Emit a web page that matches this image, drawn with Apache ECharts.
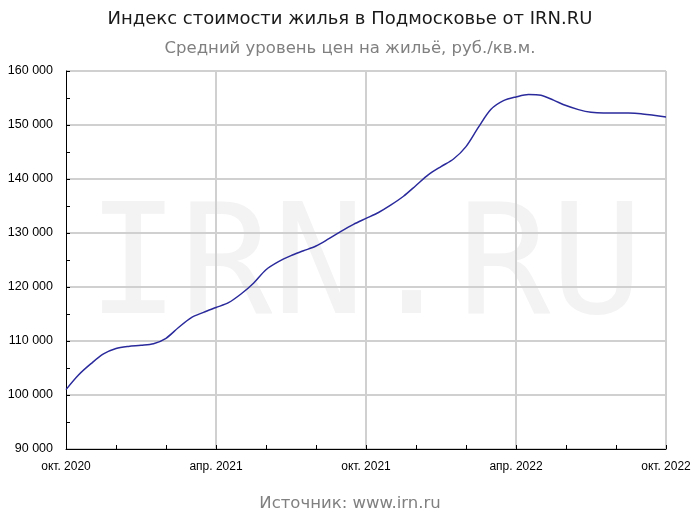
<!DOCTYPE html>
<html>
<head>
<meta charset="utf-8">
<script src="https://cdn.jsdelivr.net/npm/echarts@6/dist/echarts.min.js"></script>
<style>
  html, body { margin: 0; padding: 0; background: #fff; }
  #chart { width: 700px; height: 519px; }
</style>
</head>
<body>
<div id="chart"></div>
<script>
// semi-monthly points, Oct 2020 .. Oct 2022
const monthNames = ['янв.', 'февр.', 'мар.', 'апр.', 'мая', 'июн.', 'июл.', 'авг.', 'сент.', 'окт.', 'нояб.', 'дек.']
const startYear = 2020
const startMonth = 9 // октябрь
const pointsPerMonth = 2

const prices = [
  101000, 103700, 105800, 107600, 108600, 109000, 109200, 109500,
  110500, 112500, 114300, 115300, 116200, 117100, 118700, 120700,
  123200, 124700, 125800, 126700, 127600, 128900, 130300, 131600,
  132700, 133800, 135200, 136800, 138800, 140800, 142300, 143700,
  146000, 149600, 152900, 154500, 155200, 155650, 155500, 154600,
  153600, 152850, 152350, 152200, 152200, 152200, 152100, 151800,
  151500
]

const tickLabels = ['окт. 2020', 'апр. 2021', 'окт. 2021', 'апр. 2022', 'окт. 2022']

// category per point; label only on month starts
const categories = prices.map((v, i) => {
  if (i % pointsPerMonth !== 0) return ''
  const m = startMonth + i / pointsPerMonth
  return monthNames[m % 12] + ' ' + (startYear + Math.floor(m / 12))
})

const fmt = v => String(v).replace(/\B(?=(\d{3})+(?!\d))/g, ' ')

var myChart = echarts.init(document.getElementById('chart'))
myChart.setOption({
  animation: false,
  title: [
    {
      text: 'Индекс стоимости жилья в Подмосковье от IRN.RU',
      left: 'center', top: 5,
      textStyle: { fontFamily: 'DejaVu Sans', fontSize: 18, fontWeight: 'normal', color: '#1a1a1a' }
    },
    {
      text: 'Средний уровень цен на жильё, руб./кв.м.',
      left: 'center', top: 35,
      textStyle: { fontFamily: 'DejaVu Sans', fontSize: 16.5, fontWeight: 'normal', color: '#808080' }
    },
    {
      text: 'Источник: www.irn.ru',
      left: 'center', top: 490,
      textStyle: { fontFamily: 'DejaVu Sans', fontSize: 16.5, fontWeight: 'normal', color: '#808080' }
    }
  ],
  graphic: [{
    type: 'text',
    left: 87,
    top: 196,
    z: 0,
    silent: true,
    style: {
      text: 'IRN.RU',
      font: '154px "DejaVu Sans Mono"',
      fill: '#f3f3f3'
    }
  }],
  grid: { left: 66, right: 34, top: 71, bottom: 70 },
  xAxis: {
    type: 'category',
    data: categories,
    boundaryGap: false,
    axisLine: { lineStyle: { color: '#000', width: 1 } },
    axisTick: {
      inside: true, length: 4,
      interval: (i) => i % 4 === 0,
      lineStyle: { color: '#000' }
    },
    axisLabel: {
      interval: (i) => i % 12 === 0,
      formatter: (v, i) => tickLabels[i / 12],
      fontFamily: 'Liberation Sans', fontSize: 12, color: '#000', margin: 12
    },
    splitLine: {
      show: true,
      interval: (i) => i % 12 === 0 && i > 0,
      lineStyle: { color: '#d0d0d0', width: 2 }
    }
  },
  yAxis: {
    type: 'value',
    min: 90000, max: 160000, interval: 10000,
    axisLine: { show: true, lineStyle: { color: '#000', width: 1 } },
    axisTick: { show: true, inside: true, length: 4, lineStyle: { color: '#000' } },
    minorTick: { show: true, splitNumber: 2, length: 4, lineStyle: { color: '#000' } },
    axisLabel: { formatter: fmt, fontFamily: 'Liberation Sans', fontSize: 12.5, color: '#000', margin: 13 },
    splitLine: { lineStyle: { color: '#d0d0d0', width: 2 } }
  },
  series: [{
    type: 'line',
    data: prices,
    smooth: 0.3,
    showSymbol: false,
    lineStyle: { color: '#2a2a9c', width: 1.5 },
    z: 3
  }]
})
</script>
</body>
</html>
